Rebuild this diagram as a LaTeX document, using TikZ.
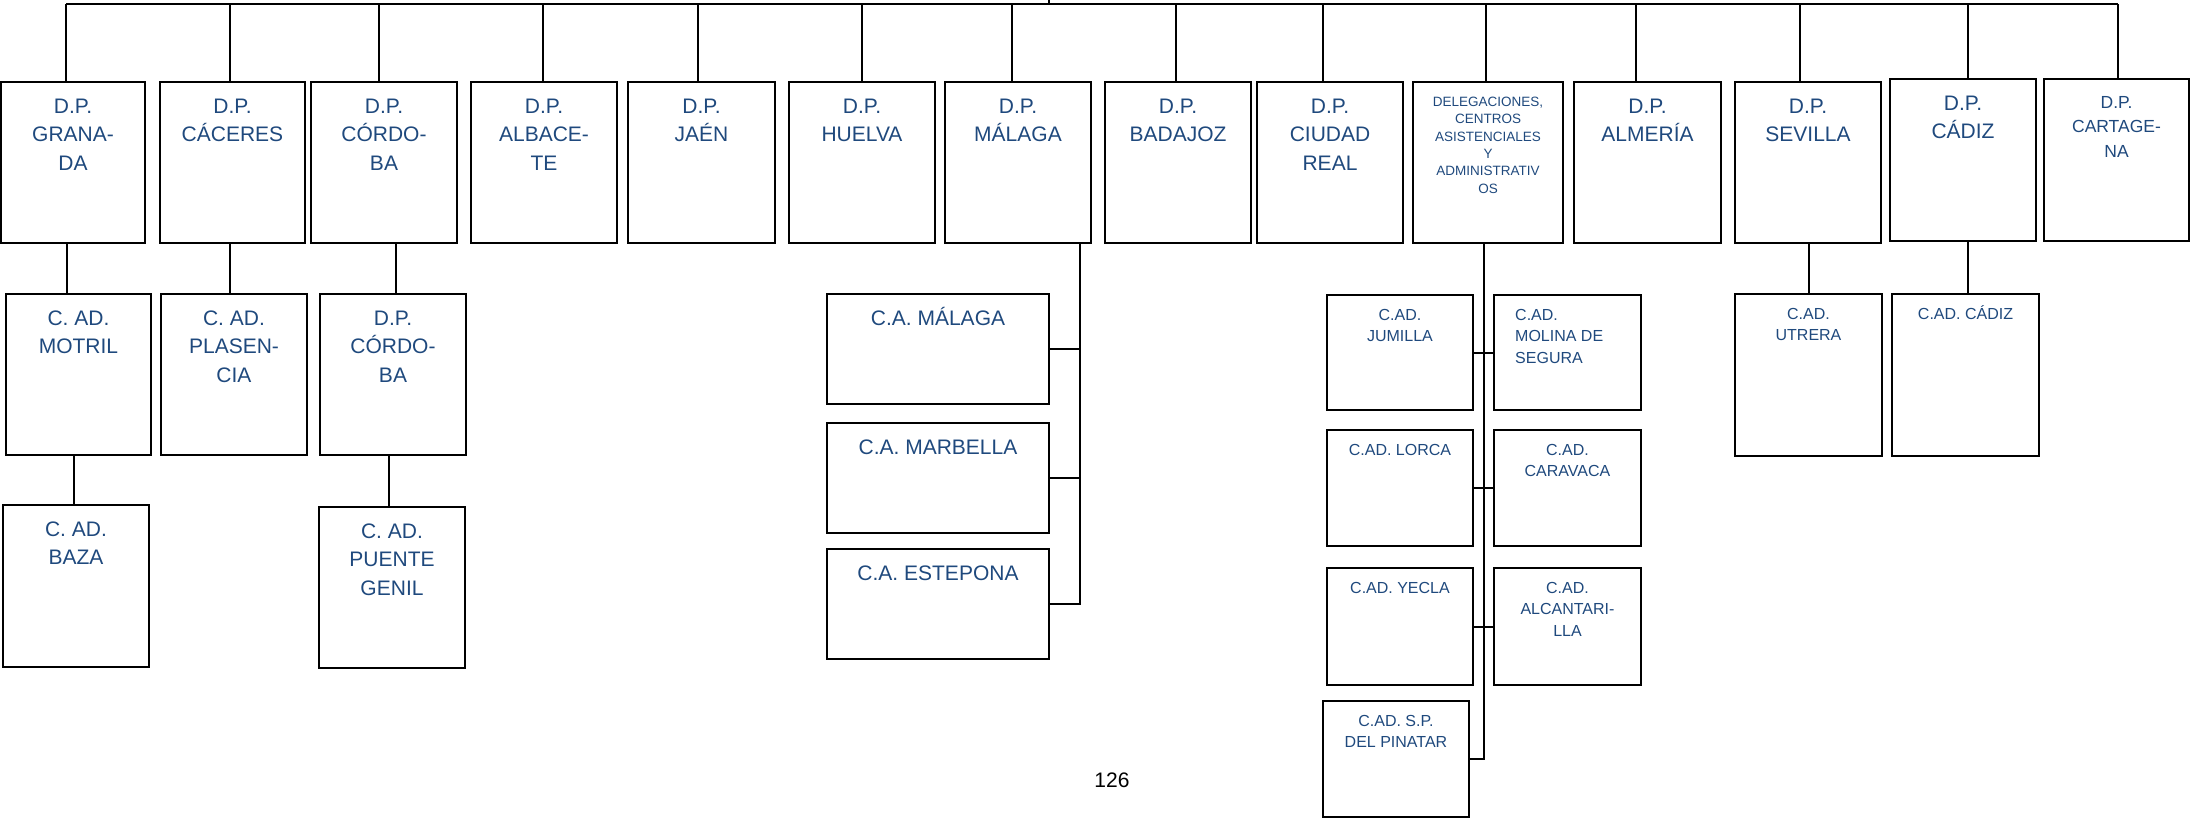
\documentclass[tikz,border=0pt]{standalone}
\usepackage{fontspec}
\setmainfont{Liberation Sans}
\usetikzlibrary{calc}
\definecolor{tblue}{HTML}{1F497D}
\newcommand\mystrut[1]{\rule{0pt}{#1pt}}
\newcommand\bx[7]{%
  \node[box, minimum width=#4pt, minimum height=#5pt] (#1) at (#2,#3) {};
  \node[#6] (#1t) at (#1.north) {#7};}
\newcommand\vlink[3]{%
  \path (#3,0) coordinate (#1-#2x);
  \draw[conn] (#1.south -| #1-#2x) -- (#2.north -| #1-#2x);}
\begin{document}
\begin{tikzpicture}[x=1pt, y=-1pt,
  box/.style={draw=black, line width=2.4pt, inner sep=0pt, outer sep=0pt, anchor=north west},
  conn/.style={draw=black, line width=2pt},
  tbig/.style={anchor=north, yshift=-11pt, font=\fontsize{21}{28.5}\selectfont, align=center, text=tblue, inner sep=0pt},
  tcar/.style={anchor=north, yshift=-12pt, font=\fontsize{17.5}{24.5}\selectfont, align=center, text=tblue, inner sep=0pt},
  tdel/.style={anchor=north, yshift=-11pt, font=\fontsize{13.5}{17.4}\selectfont, align=center, text=tblue, inner sep=0pt},
  tmid/.style={anchor=north, yshift=-10pt, font=\fontsize{16}{21.5}\selectfont, align=center, text=tblue, inner sep=0pt},
  tmol/.style={anchor=north west, xshift=21pt, yshift=-10pt, font=\fontsize{16}{21.5}\selectfont, align=left, text=tblue, inner sep=0pt},
  pnum/.style={font=\fontsize{21}{24}\selectfont, text=black, inner sep=0pt, anchor=base}
]
\useasboundingbox (0,0) rectangle (2190,819);

% top row
\bx{gra}{1}{82}{144}{161}{tbig}{\mystrut{20}D.P.\\GRANA-\\DA}
\bx{cac}{160}{82}{145}{161}{tbig}{\mystrut{20}D.P.\\CÁCERES}
\bx{cor}{311}{82}{146}{161}{tbig}{\mystrut{20}D.P.\\CÓRDO-\\BA}
\bx{alb}{471}{82}{146}{161}{tbig}{\mystrut{20}D.P.\\ALBACE-\\TE}
\bx{jae}{628}{82}{147}{161}{tbig}{\mystrut{20}D.P.\\JAÉN}
\bx{hue}{789}{82}{146}{161}{tbig}{\mystrut{20}D.P.\\HUELVA}
\bx{mal}{945}{82}{146}{161}{tbig}{\mystrut{20}D.P.\\MÁLAGA}
\bx{bad}{1105}{82}{146}{161}{tbig}{\mystrut{20}D.P.\\BADAJOZ}
\bx{ciu}{1257}{82}{146}{161}{tbig}{\mystrut{20}D.P.\\CIUDAD\\REAL}
\bx{del}{1413}{82}{150}{161}{tdel}{\mystrut{13}DELEGACIONES,\\CENTROS\\ASISTENCIALES\\Y\\ADMINISTRATIV\\OS}
\bx{alm}{1574}{82}{147}{161}{tbig}{\mystrut{20}D.P.\\ALMERÍA}
\bx{sev}{1735}{82}{146}{161}{tbig}{\mystrut{20}D.P.\\SEVILLA}
\bx{cad}{1890}{79}{146}{162}{tbig}{\mystrut{20}D.P.\\CÁDIZ}
\bx{car}{2044}{79}{145}{162}{tcar}{\mystrut{17}D.P.\\CARTAGE-\\NA}

% second level
\bx{mot}{6}{294}{145}{161}{tbig}{\mystrut{20}C. AD.\\MOTRIL}
\bx{baz}{3}{505}{146}{162}{tbig}{\mystrut{20}C. AD.\\BAZA}
\bx{pla}{161}{294}{146}{161}{tbig}{\mystrut{20}C. AD.\\PLASEN-\\CIA}
\bx{cor2}{320}{294}{146}{161}{tbig}{\mystrut{20}D.P.\\CÓRDO-\\BA}
\bx{pue}{319}{507}{146}{161}{tbig}{\mystrut{20}C. AD.\\PUENTE\\GENIL}
\bx{cam}{827}{294}{222}{110}{tbig}{\mystrut{20}C.A. MÁLAGA}
\bx{cmb}{827}{423}{222}{110}{tbig}{\mystrut{20}C.A. MARBELLA}
\bx{ces}{827}{549}{222}{110}{tbig}{\mystrut{20}C.A. ESTEPONA}
\bx{jum}{1327}{295}{146}{115}{tmid}{\mystrut{15}C.AD.\\JUMILLA}
\node[box, minimum width=147pt, minimum height=115pt] (mol) at (1494,295) {};
\node[tmol] (molt) at (mol.north west) {\mystrut{15}C.AD.\\MOLINA DE\\SEGURA};
\bx{lor}{1327}{430}{146}{116}{tmid}{\mystrut{15}C.AD. LORCA}
\bx{crv}{1494}{430}{147}{116}{tmid}{\mystrut{15}C.AD.\\CARAVACA}
\bx{yec}{1327}{568}{146}{117}{tmid}{\mystrut{15}C.AD. YECLA}
\bx{alc}{1494}{568}{147}{117}{tmid}{\mystrut{15}C.AD.\\ALCANTARI-\\LLA}
\bx{pin}{1323}{701}{146}{116}{tmid}{\mystrut{15}C.AD. S.P.\\DEL PINATAR}
\bx{utr}{1735}{294}{147}{162}{tmid}{\mystrut{15}C.AD.\\UTRERA}
\bx{cdz}{1892}{294}{147}{162}{tmid}{\mystrut{15}C.AD. CÁDIZ}

% top bar
\coordinate (tl) at (66,4);
\coordinate (tr) at (2118,4);
\coordinate (tc) at (1049,0);
\draw[conn] (tl) -- (tr);
\draw[conn] (tc) -- (tc |- tl);
\foreach \n/\xx in {gra/66, cac/229.5, cor/379, alb/543, jae/698, hue/862, mal/1012, bad/1175.5, ciu/1323, del/1486, alm/1636, sev/1800, cad/1968, car/2118}{
  \coordinate (d-\n) at (\xx,4);
  \draw[conn] (d-\n) -- (d-\n |- \n.north);
}

% vertical links
\vlink{gra}{mot}{67}
\vlink{mot}{baz}{74}
\vlink{cac}{pla}{229.5}
\vlink{cor}{cor2}{396}
\vlink{cor2}{pue}{389}
\vlink{sev}{utr}{1809}
\vlink{cad}{cdz}{1968}

% Malaga group
\path (1080,0) coordinate (xm);
\draw[conn] (mal.south -| xm) |- (ces.east);
\draw[conn] (cam.east) -- (cam.east -| xm);
\draw[conn] (cmb.east) -- (cmb.east -| xm);

% Delegaciones group
\path (1484,0) coordinate (xd);
\draw[conn] (del.south -| xd) |- (pin.east);
\draw[conn] (jum.east) -- (mol.west);
\draw[conn] (lor.east) -- (crv.west);
\draw[conn] (yec.east) -- (alc.west);

% page number
\node[pnum] (page) at (1112,787) {126};
\end{tikzpicture}
\end{document}
